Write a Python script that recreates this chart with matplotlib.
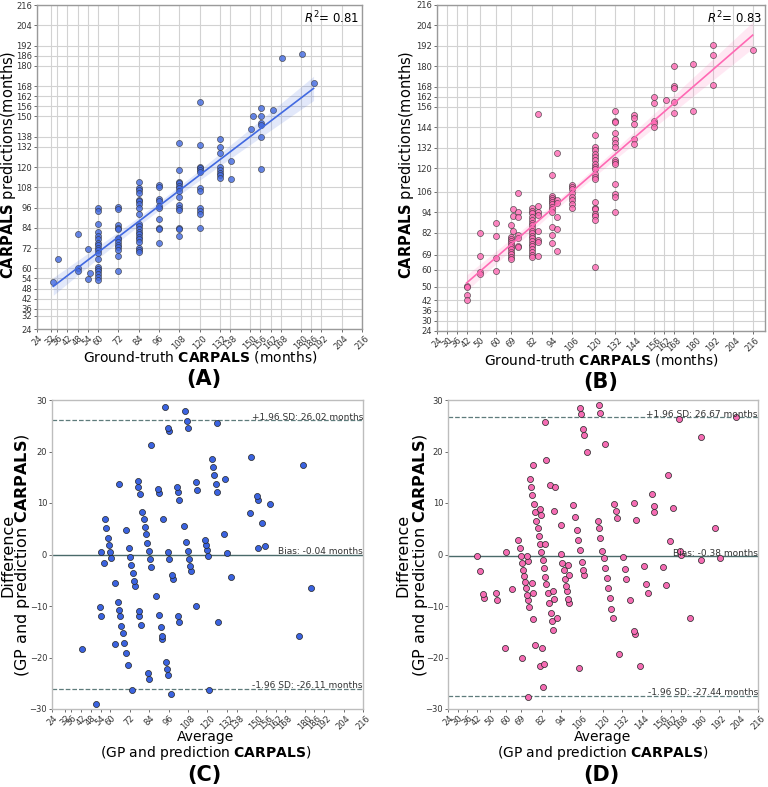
import numpy as np
import matplotlib
matplotlib.use("Agg")
import matplotlib.pyplot as plt

# ---------------- data ----------------
ticks_a = [24, 32, 36, 42, 48, 54, 60, 72, 84, 96, 108, 120, 132, 138, 150,
           156, 162, 168, 180, 186, 192, 204, 216]
ticks_b = [24, 30, 36, 42, 50, 60, 69, 82, 94, 106, 120, 132, 144, 156, 162,
           168, 180, 192, 204, 216]
diff_ticks = [-30, -20, -10, 0, 10, 20, 30]

# Panel A: ground truth vs prediction (blue model)
gt_a = ([33.6, 36.4, 48.4, 48.4, 48.4, 54.3, 54.3, 55.3]
        + [60] * 18 + [72] * 13 + [84] * 20 + [96] * 10 + [108] * 14
        + [120] * 12 + [132] * 8 + [138.4] * 2 + [150.4, 151.6]
        + [156.5] * 6 + [163.6, 168.5, 180.5, 187.4])
pred_a = ([52.0, 65.5, 80.3, 60.3, 58.6, 71.6, 53.8, 57.0]
          + [95.5, 94.0, 86.4, 81.5, 79.2, 77.2, 75.2, 73.8, 72.0, 70.8, 69.3,
             65.6, 60.7, 59.6, 58.2, 56.8, 54.9, 53.2]
          + [96.1, 95.1, 85.6, 84.0, 83.0, 78.2, 77.2, 75.6, 74.0, 72.5, 70.8,
             67.2, 58.4]
          + [111.0, 107.4, 106.2, 104.8, 100.4, 99.9, 98.0, 95.8, 92.1, 86.4,
             84.8, 83.3, 81.7, 80.1, 78.6, 77.1, 75.7, 72.2, 70.8, 69.8]
          + [109.1, 108.0, 100.8, 99.9, 96.9, 95.5, 89.2, 84.0, 83.2, 74.8]
          + [134.4, 118.0, 111.3, 110.3, 108.9, 107.4, 105.6, 102.4, 97.4,
             95.9, 94.8, 84.0, 83.5, 79.4]
          + [158.7, 133.2, 120.2, 119.2, 118.2, 117.2, 107.4, 106.0, 95.5,
             94.1, 92.1, 83.6]
          + [136.4, 131.7, 128.1, 119.8, 118.4, 116.5, 115.0, 113.5]
          + [123.8, 112.9] + [142.3, 150.4]
          + [154.8, 150.4, 145.9, 145.1, 137.6, 118.8]
          + [153.8, 184.4, 187.0, 170.0])

# Panel B: ground truth vs prediction (pink model)
gt_b = ([42] * 4 + [50] * 4 + [60] * 4
        + [69] * 12 + [70, 70, 70.5] + [73] * 7
        + [82] * 19 + [85.2] * 8
        + [94] * 12 + [97] * 6 + [106] * 8 + [120] * 19 + [132] * 14
        + [144] * 5 + [156] * 5 + [163] + [168] * 5 + [180] * 2 + [192] * 3
        + [216])
pred_b = ([50.5, 49.7, 45.2, 42.3]
          + [82.0, 68.1, 58.9, 57.5]
          + [87.7, 80.1, 66.7, 59.5]
          + [86.6, 79.1, 77.9, 76.8, 75.6, 74.4, 73.2, 72.1, 70.7, 69.3, 67.8,
             66.2]
          + [95.8, 91.7, 83.0]
          + [105.2, 94.2, 91.2, 80.5, 78.6, 74.3, 73.3]
          + [96.6, 94.9, 93.3, 91.4, 89.4, 87.8, 86.3, 84.7, 83.1, 81.6, 80.0,
             78.5, 76.9, 75.4, 73.8, 72.2, 70.5, 68.9, 67.4]
          + [152.0, 97.6, 93.9, 92.3, 83.1, 77.6, 76.4, 67.9]
          + [116.1, 103.4, 102.6, 101.0, 100.1, 98.7, 97.1, 95.6, 93.9, 85.5,
             80.6, 75.7]
          + [128.7, 101.0, 99.1, 91.2, 83.8, 71.2]
          + [110.0, 109.0, 107.4, 105.1, 103.1, 101.2, 98.8, 96.3]
          + [139.3, 132.4, 130.5, 128.5, 126.5, 124.6, 122.6, 120.7, 119.3,
             116.7, 114.8, 113.4, 100.1, 96.7, 95.6, 92.8, 91.6, 89.3, 61.4]
          + [153.6, 147.5, 146.8, 140.9, 136.8, 134.8, 132.4, 125.0, 123.6,
             122.2, 110.5, 104.6, 103.0, 94.2]
          + [151.5, 149.7, 146.2, 137.3, 134.0]
          + [161.9, 158.5, 147.7, 146.6, 144.2]
          + [160.3]
          + [180.3, 168.1, 167.4, 158.9, 152.6]
          + [181.1, 153.6]
          + [192.7, 186.8, 169.1]
          + [189.3])

r2_a, r2_b = 0.81, 0.83
bias_c, upper_c, lower_c = -0.04, 26.02, -26.11
bias_d, upper_d, lower_d = -0.38, 26.67, -27.44

# ---------------- style ----------------
W, H = 768, 787
fig = plt.figure(figsize=(W / 100, H / 100), dpi=100)


def rect(l, t, r, b):
    return [l / W, 1 - b / H, (r - l) / W, (b - t) / H]


def ftxt(x, y, s, **kw):
    fig.text(x / W, 1 - y / H, s, ha="center", va="center", **kw)


def style(ax, ticks, xlim, ylim, yt, grid):
    ax.set_xlim(*xlim)
    ax.set_ylim(*ylim)
    ax.set_xticks(ticks)
    ax.set_xticklabels([str(t) for t in ticks], rotation=45)
    ax.set_yticks(yt)
    ax.tick_params(labelsize=6, length=2.5, width=0.6, pad=1,
                   colors="#555555", labelcolor="#333333")
    for sp in ax.spines.values():
        sp.set_color("#9a9a9a" if grid else "#bdbdbd")
        sp.set_linewidth(1.0)
    if grid:
        ax.grid(True, color="#d2d2d2", linewidth=0.8)
        ax.set_axisbelow(True)


def fit_ci(x, y):
    x = np.asarray(x, float)
    y = np.asarray(y, float)
    xs = np.linspace(x.min(), x.max(), 100)
    b, a = np.polyfit(x, y, 1)
    n = len(x)
    resid = y - (a + b * x)
    s = np.sqrt(np.sum(resid ** 2) / (n - 2))
    xm = x.mean()
    sxx = np.sum((x - xm) ** 2)
    se = s * np.sqrt(1 / n + (xs - xm) ** 2 / sxx)
    yh = a + b * xs
    return xs, yh, yh - 1.98 * se, yh + 1.98 * se


def scatter_panel(ax, gt, pred, color, ticks, xlim, r2):
    ax.scatter(gt, pred, s=19, color=color, alpha=0.8, edgecolor="#333333",
               linewidth=0.5, zorder=2)
    xs, yh, lo, hi = fit_ci(gt, pred)
    ax.fill_between(xs, lo, hi, color=color, alpha=0.15, linewidth=0, zorder=3)
    ax.plot(xs, yh, color=color, linewidth=1.2, zorder=4)
    style(ax, ticks, xlim, (24, 216), ticks, True)
    ax.text(0.99, 0.985, r"$R^2$= %.2f" % r2, transform=ax.transAxes,
            ha="right", va="top", fontsize=8.5)


def ba_panel(ax, gt, pred, color, ticks, bias, up, low):
    gt = np.asarray(gt, float)
    pred = np.asarray(pred, float)
    mean = (gt + pred) / 2
    diff = gt - pred
    ax.scatter(mean, diff, s=19, color=color, edgecolor="#222222",
               linewidth=0.5, zorder=2)
    ax.axhline(bias, color="#4a6a6a", linewidth=1.0, zorder=1)
    ax.axhline(up, color="#5e7b7b", linewidth=0.9, linestyle="--", zorder=1)
    ax.axhline(low, color="#5e7b7b", linewidth=0.9, linestyle="--", zorder=1)
    style(ax, ticks, (24, 216), (-30, 30), diff_ticks, False)
    kw = dict(ha="right", va="center", fontsize=6.5, color="#333333", zorder=5)
    ax.text(216, up + 0.6, "+1.96 SD: %.2f months" % up, **kw)
    ax.text(216, bias + 0.6, "Bias: %.2f months" % bias, **kw)
    ax.text(216, low + 0.6, "-1.96 SD: %.2f months" % low, **kw)


blue_a = "#4169E1"
pink_b = "#FF69B4"

axA = fig.add_axes(rect(37, 5, 362, 329))
scatter_panel(axA, gt_a, pred_a, blue_a, ticks_a, (24, 216), r2_a)
axB = fig.add_axes(rect(437, 5, 765, 331))
scatter_panel(axB, gt_b, pred_b, pink_b, ticks_b, (24, 223.5), r2_b)
axC = fig.add_axes(rect(52, 400, 363, 709))
ba_panel(axC, gt_a, pred_a, "#3b63e0", ticks_a, bias_c, upper_c, lower_c)
axD = fig.add_axes(rect(448, 400, 758, 709))
ba_panel(axD, gt_b, pred_b, "#f56cb3", ticks_b, bias_d, upper_d, lower_d)

# labels
ftxt(9, 165, r"$\bf{CARPALS}$ predictions(months)", fontsize=10.5, rotation=90)
ftxt(406, 165, r"$\bf{CARPALS}$ predictions(months)", fontsize=10.5, rotation=90)
ftxt(200, 357, r"Ground-truth $\bf{CARPALS}$ (months)", fontsize=10)
ftxt(601, 360, r"Ground-truth $\bf{CARPALS}$ (months)", fontsize=10)
ftxt(204, 379, "(A)", fontsize=15, fontweight="bold")
ftxt(601, 382, "(B)", fontsize=15, fontweight="bold")

for cx, lx1, lx2 in [(206, 8, 23), (603, 403, 420)]:
    ftxt(lx1, 555, "Difference", fontsize=11.5, rotation=90)
    ftxt(lx2, 555, r"(GP and prediction $\bf{CARPALS}$)", fontsize=11.5,
         rotation=90)
    ftxt(cx, 737, "Average", fontsize=10)
    ftxt(cx, 753, r"(GP and prediction $\bf{CARPALS}$)", fontsize=10)
ftxt(204, 775, "(C)", fontsize=15, fontweight="bold")
ftxt(601, 775, "(D)", fontsize=15, fontweight="bold")

fig.savefig("out.png", dpi=100)
